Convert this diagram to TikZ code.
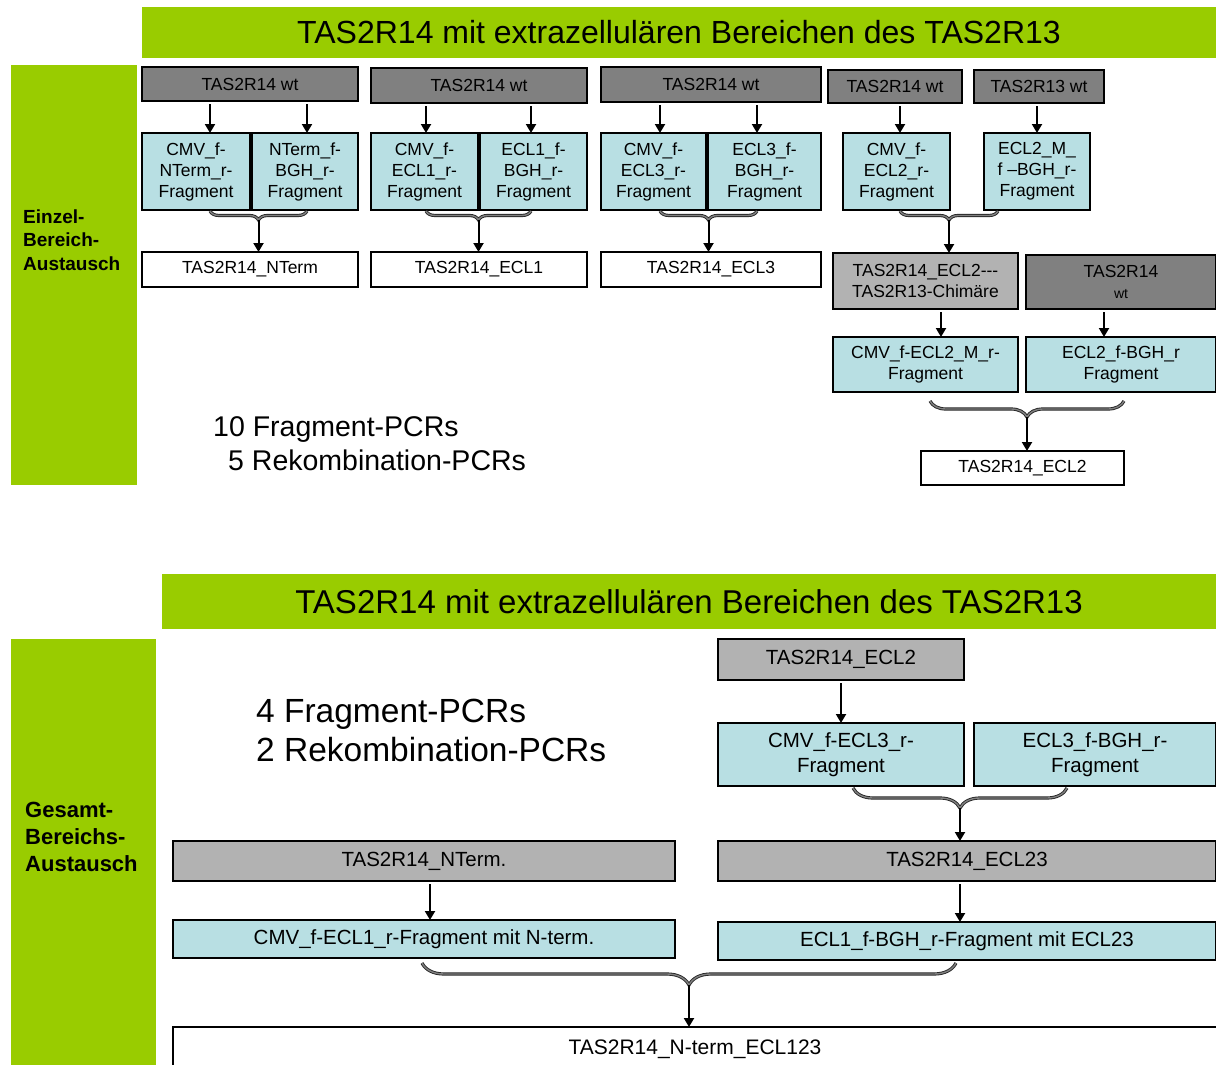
\documentclass[tikz,border=0pt]{standalone}
\usepackage{fontspec}
\setmainfont{Liberation Sans}
\usetikzlibrary{arrows.meta, positioning, calc, decorations.pathreplacing}
\definecolor{leaf}{RGB}{153, 204, 0}
\definecolor{wtgray}{RGB}{128, 128, 128}
\definecolor{chimgray}{RGB}{178, 178, 178}
\definecolor{fragcyan}{RGB}{184, 223, 227}

\begin{document}
\begin{tikzpicture}[
        x=1pt, y=-1pt,
        % Styles
        block/.style={
            rectangle,
            draw=black,
            line width=2pt,
            align=center,
            inner sep=0pt,
            outer sep=0pt,
            font=\fontsize{17.5}{21}\selectfont
        },
        wtbox/.style={block, fill=wtgray},
        chimbox/.style={block, fill=chimgray},
        frag/.style={block, fill=fragcyan},
        result/.style={block, fill=white},
        bigbox/.style={font=\fontsize{20.5}{25}\selectfont},
        banner/.style={rectangle, fill=leaf, inner sep=0pt, font=\fontsize{32}{38}\selectfont},
        side/.style={rectangle, fill=leaf, inner sep=0pt},
        sidelabel/.style={anchor=west, align=left, inner sep=0pt},
        pcrnote/.style={anchor=west, align=left, inner sep=0pt},
        conn/.style={-{Triangle[width=10pt,length=9pt]}, line width=2pt, shorten <=3pt},
        curly/.style={decorate, decoration={brace, mirror, amplitude=#1},
            draw=black!85, double=black!50, double distance=1.4pt, line width=0.9pt},
        curly/.default=9pt
    ]
    \useasboundingbox (0,0) rectangle (1216,1065);

    % ==============================
    % 1. EINZEL-BEREICH-AUSTAUSCH
    % ==============================
    \node[banner, minimum width=1074, minimum height=51] (title1) at (679,32.5)
        {TAS2R14 mit extrazellulären Bereichen des TAS2R13};
    \node[side, minimum width=126, minimum height=420] (side1) at (74,275) {};
    \node[sidelabel, font=\bfseries\fontsize{19}{23.5}\selectfont] (lab1) at (23,240)
        {Einzel-\\Bereich-\\Austausch};

    % column 1
    \node[wtbox, minimum width=216, minimum height=34] (wt1) at (250,84) {TAS2R14 wt};
    \node[frag, minimum width=108, minimum height=77] (f1a) at (196,171.5) {CMV\_f-\\NTerm\_r-\\Fragment};
    \node[frag, minimum width=106, minimum height=77] (f1b) at (305,171.5) {NTerm\_f-\\BGH\_r-\\Fragment};
    \node[result, minimum width=216, minimum height=35] (r1) at (250,269.5) {TAS2R14\_NTerm};
    \coordinate (b1l) at (210,211);
    \coordinate (b1r) at (307,211);
    \coordinate (t1) at ($(b1l)!0.5!(b1r)+(0,9)$);
    \draw[conn] (wt1.south -| b1l) -- (f1a.north -| b1l);
    \draw[conn] (wt1.south -| b1r) -- (f1b.north -| b1r);
    \draw[curly] (b1l) -- (b1r);
    \draw[conn, shorten <=0pt] (t1) -- (t1 |- r1.north);

    % column 2
    \node[wtbox, minimum width=216, minimum height=35] (wt2) at (479,85.5) {TAS2R14 wt};
    \node[frag, minimum width=107, minimum height=77] (f2a) at (424.5,171.5) {CMV\_f-\\ECL1\_r-\\Fragment};
    \node[frag, minimum width=107, minimum height=77] (f2b) at (533.5,171.5) {ECL1\_f-\\BGH\_r-\\Fragment};
    \node[result, minimum width=216, minimum height=35] (r2) at (479,269.5) {TAS2R14\_ECL1};
    \coordinate (b2l) at (426,211);
    \coordinate (b2r) at (531,211);
    \coordinate (t2) at ($(b2l)!0.5!(b2r)+(0,9)$);
    \draw[conn] (wt2.south -| b2l) -- (f2a.north -| b2l);
    \draw[conn] (wt2.south -| b2r) -- (f2b.north -| b2r);
    \draw[curly] (b2l) -- (b2r);
    \draw[conn, shorten <=0pt] (t2) -- (t2 |- r2.north);

    % column 3
    \node[wtbox, minimum width=220, minimum height=35] (wt3) at (711,84.5) {TAS2R14 wt};
    \node[frag, minimum width=105, minimum height=77] (f3a) at (653.5,171.5) {CMV\_f-\\ECL3\_r-\\Fragment};
    \node[frag, minimum width=113, minimum height=77] (f3b) at (764.5,171.5) {ECL3\_f-\\BGH\_r-\\Fragment};
    \node[result, minimum width=220, minimum height=35] (r3) at (711,269.5) {TAS2R14\_ECL3};
    \coordinate (b3l) at (660,211);
    \coordinate (b3r) at (757,211);
    \coordinate (t3) at ($(b3l)!0.5!(b3r)+(0,9)$);
    \draw[conn] (wt3.south -| b3l) -- (f3a.north -| b3l);
    \draw[conn] (wt3.south -| b3r) -- (f3b.north -| b3r);
    \draw[curly] (b3l) -- (b3r);
    \draw[conn, shorten <=0pt] (t3) -- (t3 |- r3.north);

    % column 4: chimera route
    \node[wtbox, minimum width=134, minimum height=33] (wt4) at (895,86.5) {TAS2R14 wt};
    \node[wtbox, minimum width=130, minimum height=33] (wt13) at (1039,86.5) {TAS2R13 wt};
    \node[frag, minimum width=107, minimum height=77] (f4a) at (896.5,171.5) {CMV\_f-\\ECL2\_r-\\Fragment};
    \node[frag, minimum width=106, minimum height=77] (f4b) at (1037,171.5) {ECL2\_M\_\\f --BGH\_r-\\Fragment};
    \node[chimbox, minimum width=185, minimum height=56] (chim) at (925.5,281) {TAS2R14\_ECL2-{}-{}-\\TAS2R13-Chimäre};
    \node[wtbox, minimum width=190, minimum height=54] (wt5) at (1121,282) {TAS2R14\\{\fontsize{14}{16}\selectfont wt}};
    \node[frag, minimum width=185, minimum height=55] (f5a) at (925.5,364.5) {CMV\_f-ECL2\_M\_r-\\Fragment};
    \node[frag, minimum width=190, minimum height=55] (f5b) at (1121,364.5) {ECL2\_f-BGH\_r\\Fragment};
    \node[result, minimum width=203, minimum height=34] (r5) at (1022.5,468) {TAS2R14\_ECL2};
    \coordinate (b4l) at (900,211);
    \coordinate (b4r) at (998,211);
    \coordinate (t4) at ($(b4l)!0.5!(b4r)+(0,9)$);
    \draw[conn] (wt4.south -| b4l) -- (f4a.north -| b4l);
    \draw[conn] (f4b.north |- wt13.south) -- (f4b.north);
    \draw[curly] (b4l) -- (b4r);
    \draw[conn, shorten <=0pt] (t4) -- (t4 |- chim.north);
    \coordinate (a5l) at (941,320);
    \coordinate (a5r) at (1104,320);
    \draw[conn] (chim.south -| a5l) -- (f5a.north -| a5l);
    \draw[conn] (wt5.south -| a5r) -- (f5b.north -| a5r);
    \coordinate (b5l) at (930,401);
    \coordinate (b5r) at (1124,401);
    \coordinate (t5) at ($(b5l)!0.5!(b5r)+(0,16)$);
    \draw[curly=16pt] (b5l) -- (b5r);
    \draw[conn, shorten <=0pt] (t5) -- (t5 |- r5.north);

    \node[pcrnote, font=\fontsize{28.5}{34}\selectfont] (pcr1) at (213,444)
        {10 Fragment-PCRs\\\hspace*{15pt}5 Rekombination-PCRs};

    % ==============================
    % 2. GESAMT-BEREICHS-AUSTAUSCH
    % ==============================
    \node[banner, minimum width=1054, minimum height=55, font=\fontsize{33}{39}\selectfont] (title2) at (689,601.5)
        {TAS2R14 mit extrazellulären Bereichen des TAS2R13};
    \node[side, minimum width=145, minimum height=426] (side2) at (83.5,852) {};
    \node[sidelabel, font=\bfseries\fontsize{22}{27}\selectfont] (lab2) at (25,837)
        {Gesamt-\\Bereichs-\\Austausch};

    \node[pcrnote, font=\fontsize{33.5}{39}\selectfont] (pcr2) at (256,730.5)
        {4 Fragment-PCRs\\2 Rekombination-PCRs};

    \node[chimbox, bigbox, minimum width=246, minimum height=41] (e2) at (841,659.5) {TAS2R14\_ECL2};
    \node[frag, bigbox, minimum width=246, minimum height=63] (f6a) at (841,754.5) {CMV\_f-ECL3\_r-\\Fragment};
    \node[frag, bigbox, minimum width=242, minimum height=63] (f6b) at (1095,754.5) {ECL3\_f-BGH\_r-\\Fragment};
    \draw[conn] (e2) -- (f6a);
    \coordinate (b6l) at (853,788);
    \coordinate (b6r) at (1067,788);
    \coordinate (t6) at ($(b6l)!0.5!(b6r)+(0,20)$);
    \draw[curly=20pt] (b6l) -- (b6r);

    \node[chimbox, bigbox, minimum width=502, minimum height=40] (nt) at (424,861) {TAS2R14\_NTerm.};
    \node[chimbox, bigbox, minimum width=498, minimum height=40] (e23) at (967,861) {TAS2R14\_ECL23};
    \draw[conn, shorten <=0pt] (t6) -- (t6 |- e23.north);

    \node[frag, bigbox, minimum width=502, minimum height=38] (f7a) at (424,939) {CMV\_f-ECL1\_r-Fragment mit N-term.};
    \node[frag, bigbox, minimum width=498, minimum height=38] (f7b) at (967,941) {ECL1\_f-BGH\_r-Fragment mit ECL23};
    \coordinate (a7l) at (430,900);
    \draw[conn] (nt.south -| a7l) -- (f7a.north -| a7l);
    \draw[conn] (e23.south -| t6) -- (f7b.north -| t6);

    \node[result, minimum width=1044, minimum height=44, font=\fontsize{21}{25}\selectfont] (fin) at (695,1049)
        {TAS2R14\_N-term\_ECL123};
    \coordinate (b7l) at (422,963);
    \coordinate (b7r) at (956,963);
    \coordinate (t7) at ($(b7l)!0.5!(b7r)+(0,22)$);
    \draw[curly=22pt] (b7l) -- (b7r);
    \draw[conn, shorten <=0pt] (t7) -- (t7 |- fin.north);

    \end{tikzpicture}
\end{document}
